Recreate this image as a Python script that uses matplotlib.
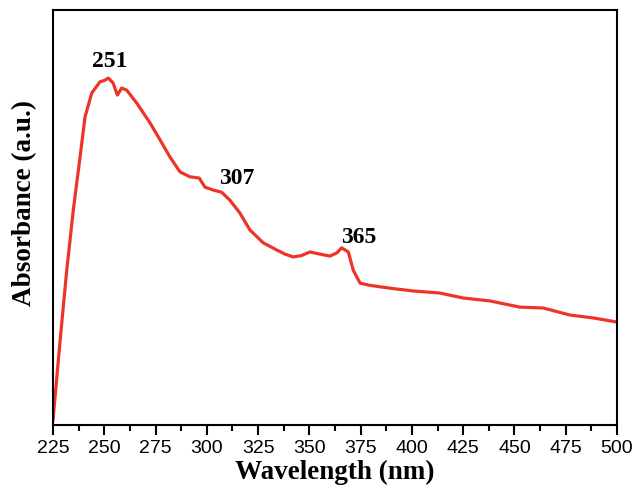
import matplotlib
matplotlib.use("Agg")
import matplotlib.pyplot as plt
from matplotlib.ticker import MultipleLocator

# wavelength (nm) and absorbance (a.u.)
wavelength = [225.0, 228.4, 231.7, 234.9, 238.2, 240.6, 243.9, 247.9, 250.0, 252.0,
              254.3, 256.4, 258.5, 260.9, 265.8, 272.3, 277.2, 282.0, 286.9, 291.8,
              296.3, 299.1, 303.2, 307.2, 311.2, 316.1, 321.0, 327.5, 334.0, 338.0,
              342.1, 346.0, 350.3, 355.0, 360.0, 363.5, 365.7, 369.0, 371.4, 374.7,
              379.0, 384.4, 392.0, 400.6, 413.6, 425.0, 438.0, 452.7, 464.0, 477.0,
              488.4, 500.0]
absorbance = [0.012, 0.200, 0.373, 0.518, 0.646, 0.742, 0.800, 0.827, 0.830, 0.836,
              0.824, 0.795, 0.812, 0.807, 0.776, 0.728, 0.687, 0.646, 0.610, 0.598,
              0.595, 0.573, 0.566, 0.561, 0.542, 0.511, 0.470, 0.439, 0.422, 0.412,
              0.405, 0.408, 0.417, 0.412, 0.407, 0.415, 0.427, 0.417, 0.373, 0.342,
              0.337, 0.333, 0.328, 0.323, 0.318, 0.306, 0.299, 0.284, 0.282, 0.265,
              0.258, 0.248]

peak_labels = ["251", "307", "365"]
peak_x = [252.8, 314.7, 374.0]
peak_y = [0.875, 0.595, 0.451]

fig = plt.figure(figsize=(6.34, 4.90), dpi=100)
ax = fig.add_axes([53 / 634, 65 / 490, 564 / 634, 415 / 490])

ax.plot(wavelength, absorbance, color="#ec3528", linewidth=2.3)

for lab, x, y in zip(peak_labels, peak_x, peak_y):
    ax.text(x, y, lab, ha="center", va="center", fontsize=17,
            fontweight="bold", family="Liberation Serif")

ax.set_xlim(225, 500)
ax.set_ylim(0, 1)
ax.xaxis.set_major_locator(MultipleLocator(25))
ax.xaxis.set_minor_locator(MultipleLocator(12.5))
ax.set_yticks([])
ax.tick_params(axis="x", which="major", direction="out", length=7, width=1.5,
               labelsize=14, pad=4)
ax.tick_params(axis="x", which="minor", direction="out", length=4, width=1.5)
for lab in ax.get_xticklabels():
    lab.set_family("Liberation Sans")
for s in ax.spines.values():
    s.set_linewidth(1.5)

ax.set_xlabel("Wavelength (nm)", fontsize=19.5, fontweight="bold",
              family="Liberation Serif", labelpad=2)
ax.set_ylabel("Absorbance (a.u.)", fontsize=19.5, fontweight="bold",
              family="Liberation Serif")
ax.yaxis.set_label_coords(-0.028, 0.534)

fig.savefig("out.png", dpi=100)
